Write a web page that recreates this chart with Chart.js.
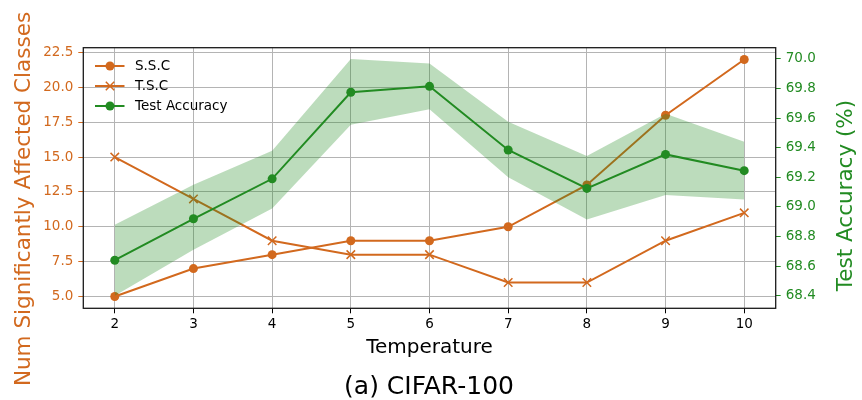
<!DOCTYPE html>
<html>
<head>
<meta charset="utf-8">
<script src="https://cdn.jsdelivr.net/npm/chart.js@4.4.1/dist/chart.umd.min.js"></script>
<style>
  html, body { margin: 0; padding: 0; background: #fff; }
  #wrap { position: relative; width: 862px; height: 400px; }
</style>
</head>
<body>
<div id="wrap"><canvas id="chart"></canvas></div>
<script>
// values
const temperatures = [2, 3, 4, 5, 6, 7, 8, 9, 10];
const sscValues = [5, 7, 8, 9, 9, 10, 13, 18, 22];
const tscValues = [15, 12, 9, 8, 8, 6, 6, 9, 11];
const accMean = [68.64, 68.92, 69.19, 69.775, 69.815, 69.385, 69.125, 69.355, 69.245];
const accUpper = [68.88, 69.15, 69.38, 70.0, 69.97, 69.575, 69.345, 69.63, 69.44];
const accLower = [68.4, 68.71, 68.99, 69.555, 69.66, 69.2, 68.915, 69.08, 69.05];

const leftTicks = [5, 7.5, 10, 12.5, 15, 17.5, 20, 22.5];
const rightTicks = [68.4, 68.6, 68.8, 69.0, 69.2, 69.4, 69.6, 69.8, 70.0];

const ORANGE = '#d2691e';
const GREEN = '#228b22';
const BAND = 'rgba(34, 139, 34, 0.3)';
const GRID = '#b4b4b4';
const FONT = '"DejaVu Sans", sans-serif';
const TICK_SIZE = 13.5;

const pts = vals => temperatures.map((t, i) => ({ x: t, y: vals[i] }));
const setTicks = list => axis => { axis.ticks = list.map(v => ({ value: v })); };

// matplotlib-like legend, spines and outer labels
const decorPlugin = {
  id: 'decor',
  afterDatasetsDraw(chart) {
    const ctx = chart.ctx;
    const items = [
      { label: 'S.S.C', color: ORANGE, marker: 'circle' },
      { label: 'T.S.C', color: ORANGE, marker: 'cross' },
      { label: 'Test Accuracy', color: GREEN, marker: 'circle' }
    ];
    ctx.save();
    items.forEach((it, i) => {
      const y = 66 + i * 20;
      ctx.strokeStyle = it.color;
      ctx.lineWidth = 2;
      ctx.beginPath();
      ctx.moveTo(95, y);
      ctx.lineTo(124.5, y);
      ctx.stroke();
      if (it.marker === 'circle') {
        ctx.fillStyle = it.color;
        ctx.beginPath();
        ctx.arc(110, y, 4.5, 0, Math.PI * 2);
        ctx.fill();
      } else {
        ctx.lineWidth = 1.5;
        ctx.beginPath();
        ctx.moveTo(105.8, y - 4.2); ctx.lineTo(114.2, y + 4.2);
        ctx.moveTo(114.2, y - 4.2); ctx.lineTo(105.8, y + 4.2);
        ctx.stroke();
      }
      ctx.fillStyle = '#000';
      ctx.font = '13.5px ' + FONT;
      ctx.textAlign = 'left';
      ctx.textBaseline = 'middle';
      ctx.fillText(it.label, 135, y);
    });
    ctx.restore();
  },
  afterDraw(chart) {
    const ctx = chart.ctx;
    const a = chart.chartArea;
    ctx.save();
    ctx.strokeStyle = '#1a1a1a';
    ctx.lineWidth = 1.3;
    ctx.strokeRect(a.left, a.top, a.right - a.left, a.bottom - a.top);

    ctx.textAlign = 'center';
    ctx.textBaseline = 'alphabetic';
    ctx.font = '20px ' + FONT;
    ctx.fillStyle = '#000';
    ctx.fillText('Temperature', 429.5, 353);
    ctx.font = '25px ' + FONT;
    ctx.fillText('(a) CIFAR-100', 429, 394);

    ctx.font = '21.5px ' + FONT;
    ctx.fillStyle = ORANGE;
    ctx.save();
    ctx.translate(29.5, 199);
    ctx.rotate(-Math.PI / 2);
    ctx.fillText('Num Significantly Affected Classes', 0, 0);
    ctx.restore();
    ctx.fillStyle = GREEN;
    ctx.translate(851.5, 195.5);
    ctx.rotate(-Math.PI / 2);
    ctx.fillText('Test Accuracy (%)', 0, 0);
    ctx.restore();
  }
};

new Chart(document.getElementById('chart'), {
  type: 'line',
  data: {
    datasets: [
      {
        label: 'Test Accuracy',
        data: pts(accMean),
        yAxisID: 'y1',
        borderColor: GREEN,
        backgroundColor: GREEN,
        borderWidth: 2,
        pointRadius: 4.5,
        pointBorderWidth: 0,
        fill: false,
        order: 0
      },
      {
        label: 'band upper',
        data: pts(accUpper),
        yAxisID: 'y1',
        borderWidth: 0,
        borderColor: 'rgba(0,0,0,0)',
        pointRadius: 0,
        backgroundColor: BAND,
        fill: '+1',
        order: 1
      },
      {
        label: 'band lower',
        data: pts(accLower),
        yAxisID: 'y1',
        borderWidth: 0,
        borderColor: 'rgba(0,0,0,0)',
        pointRadius: 0,
        fill: false,
        order: 1
      },
      {
        label: 'S.S.C',
        data: pts(sscValues),
        yAxisID: 'y',
        borderColor: ORANGE,
        backgroundColor: ORANGE,
        borderWidth: 2,
        pointRadius: 4.5,
        pointBorderWidth: 0,
        fill: false,
        order: 2
      },
      {
        label: 'T.S.C',
        data: pts(tscValues),
        yAxisID: 'y',
        borderColor: ORANGE,
        backgroundColor: ORANGE,
        borderWidth: 2,
        pointStyle: 'crossRot',
        pointRadius: 6,
        pointBorderWidth: 1.5,
        pointBorderColor: ORANGE,
        fill: false,
        order: 3
      }
    ]
  },
  options: {
    responsive: true,
    maintainAspectRatio: false,
    animation: false,
    events: [],
    layout: { padding: { top: 47.7, left: 0, right: 0, bottom: 0 } },
    plugins: {
      legend: { display: false },
      tooltip: { enabled: false }
    },
    scales: {
      x: {
        type: 'linear',
        min: 1.6,
        max: 10.4,
        afterBuildTicks: setTicks(temperatures),
        afterFit: s => { s.height = 91.7; },
        grid: { color: GRID, lineWidth: 1, tickColor: '#000', tickLength: 5, tickWidth: 1 },
        border: { display: false },
        ticks: { color: '#000', font: { family: FONT, size: TICK_SIZE }, padding: 3.5, maxRotation: 0 }
      },
      y: {
        type: 'linear',
        position: 'left',
        min: 4.15,
        max: 22.85,
        afterBuildTicks: setTicks(leftTicks),
        afterFit: s => { s.width = 83.3; },
        grid: { color: GRID, lineWidth: 1, tickColor: ORANGE, tickLength: 5, tickWidth: 1 },
        border: { display: false },
        ticks: {
          color: ORANGE,
          font: { family: FONT, size: TICK_SIZE },
          padding: 5,
          callback: v => v.toFixed(1)
        }
      },
      y1: {
        type: 'linear',
        position: 'right',
        min: 68.315,
        max: 70.076,
        afterBuildTicks: setTicks(rightTicks),
        afterFit: s => { s.width = 86.3; },
        grid: { drawOnChartArea: false, color: GREEN, tickColor: GREEN, tickLength: 5, tickWidth: 1 },
        border: { display: false },
        ticks: {
          color: GREEN,
          font: { family: FONT, size: TICK_SIZE },
          padding: 5,
          callback: v => v.toFixed(1)
        }
      }
    }
  },
  plugins: [decorPlugin]
});
</script>
</body>
</html>
